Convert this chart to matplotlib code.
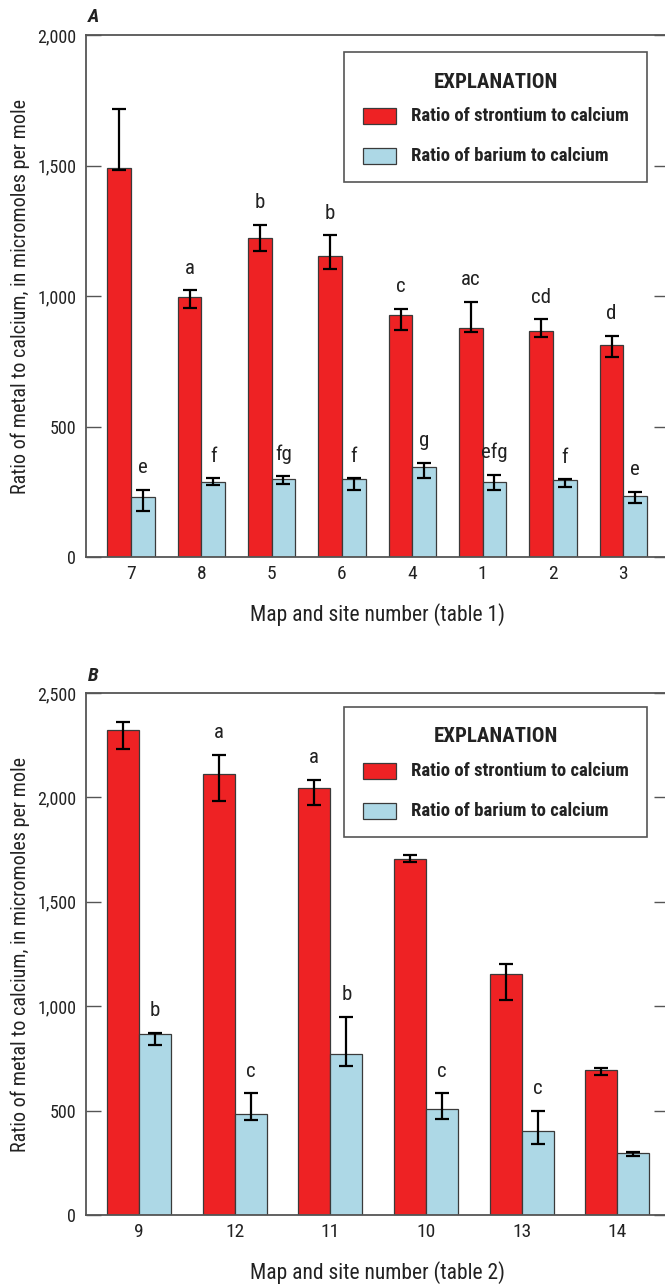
import matplotlib
matplotlib.use("Agg")
import matplotlib.pyplot as plt
from matplotlib import font_manager
from matplotlib.patches import Rectangle
import numpy as np

# ---------------- data ----------------
sites_a = ['7', '8', '5', '6', '4', '1', '2', '3']
sr_a = [1490, 997, 1222, 1152, 929, 878, 867, 814]
sr_a_lo = [1482, 955, 1172, 1102, 871, 861, 843, 767]
sr_a_hi = [1716, 1022, 1272, 1232, 951, 978, 910, 846]
ba_a = [231, 287, 298, 297, 343, 289, 294, 235]
ba_a_lo = [177, 276, 278, 255, 304, 255, 269, 205]
ba_a_hi = [257, 301, 310, 301, 360, 315, 297, 250]
sr_a_letters = ['', 'a', 'b', 'b', 'c', 'ac', 'cd', 'd']
ba_a_letters = ['e', 'f', 'fg', 'f', 'g', 'efg', 'f', 'e']

sites_b = ['9', '12', '11', '10', '13', '14']
sr_b = [2324, 2113, 2044, 1703, 1154, 694]
sr_b_lo = [2234, 1983, 1962, 1692, 1031, 671]
sr_b_hi = [2363, 2205, 2085, 1722, 1203, 706]
ba_b = [866, 483, 772, 507, 401, 297]
ba_b_lo = [812, 457, 714, 462, 339, 284]
ba_b_hi = [874, 582, 949, 583, 500, 303]
sr_b_letters = ['', 'a', 'a', '', '', '']
ba_b_letters = ['b', 'c', 'b', 'c', 'c', '']

yticks_a = [0, 500, 1000, 1500, 2000]
yticks_b = [0, 500, 1000, 1500, 2000, 2500]

# ---------------- fonts ----------------
available = {f.name for f in font_manager.fontManager.ttflist}
FONT = 'Liberation Sans'
for cand in ['Liberation Sans Narrow', 'Roboto Condensed', 'Noto Sans Condensed',
             'DejaVu Sans Condensed', 'Open Sans Condensed', 'Arial Narrow']:
    if cand in available:
        FONT = cand
        break
plt.rcParams['font.family'] = [FONT, 'DejaVu Sans']

RED = '#EE2224'
BLUE = '#ADD8E6'
EDGE = '#3a3a3a'
SPINE = '#555555'
TXT = '#222222'

W, H = 665, 1285
fig = plt.figure(figsize=(W / 100, H / 100), dpi=100)


def fx(x):
    return x / W


def fy(y):
    return 1 - y / H


def panel(rect, sites, sr, sr_lo, sr_hi, ba, ba_lo, ba_hi, sr_let, ba_let,
          yticks, xlim, xlabel, legend_box, letter, letter_y):
    ax = fig.add_axes(rect)
    x = np.arange(len(sites))
    w = 0.335
    sr = np.array(sr); ba = np.array(ba)
    sr_err = [sr - np.array(sr_lo), np.array(sr_hi) - sr]
    ba_err = [ba - np.array(ba_lo), np.array(ba_hi) - ba]
    ax.bar(x - w / 2, sr, w, color=RED, edgecolor=EDGE, linewidth=0.9, zorder=2)
    ax.bar(x + w / 2, ba, w, color=BLUE, edgecolor=EDGE, linewidth=0.9, zorder=2)
    ekw = dict(fmt='none', ecolor='black', elinewidth=1.6, capsize=5, capthick=1.6, zorder=3)
    ax.errorbar(x - w / 2, sr, yerr=sr_err, **ekw)
    ax.errorbar(x + w / 2, ba, yerr=ba_err, **ekw)
    for xs, his, lets in ((x - w / 2, sr_hi, sr_let), (x + w / 2, ba_hi, ba_let)):
        for xi, hi, t in zip(xs, his, lets):
            if t:
                ax.annotate(t, xy=(xi, hi), xytext=(0, 16), textcoords='offset points',
                            ha='center', va='center', fontsize=15, color=TXT)
    ax.set_xlim(*xlim)
    ax.set_ylim(yticks[0], yticks[-1])
    ax.set_yticks(yticks)
    ax.set_yticklabels([f'{v:,}' for v in yticks])
    ax.set_xticks(x)
    ax.set_xticklabels(sites)
    ax.tick_params(axis='x', length=0, pad=6, labelsize=14, colors=TXT)
    ax.tick_params(axis='y', direction='in', length=11, width=1, pad=7,
                   labelsize=13, colors=TXT, right=True, color=SPINE)
    for s in ax.spines.values():
        s.set_color(SPINE)
        s.set_linewidth(1.3)
    ax.set_xlabel(xlabel, fontsize=15.5, labelpad=14, color=TXT)
    ax.set_ylabel('Ratio of metal to calcium, in micromoles per mole', fontsize=14.5,
                  labelpad=5, color=TXT)
    # legend (explanation box)
    x0, y0, x1, y1 = legend_box
    fig.patches.append(Rectangle((fx(x0), fy(y1)), fx(x1 - x0), (y1 - y0) / H,
                                 transform=fig.transFigure, facecolor='white',
                                 edgecolor=SPINE, linewidth=1.2, zorder=5))
    fig.text(fx(496), fy(y0 + 30), 'EXPLANATION', ha='center', va='center',
             fontsize=15, fontweight='bold', color=TXT, zorder=6)
    for i, (c, lab) in enumerate([(RED, 'Ratio of strontium to calcium'),
                                  (BLUE, 'Ratio of barium to calcium')]):
        yc = y0 + 64 + i * 40
        fig.patches.append(Rectangle((fx(x0 + 19), fy(yc + 8)), fx(33), 16 / H,
                                     transform=fig.transFigure, facecolor=c,
                                     edgecolor=EDGE, linewidth=0.9, zorder=6))
        fig.text(fx(x0 + 67), fy(yc), lab, ha='left', va='center', fontsize=13.5,
                 fontweight='bold', color=TXT, zorder=6)
    fig.text(fx(88), fy(letter_y), letter, ha='left', va='center', fontsize=14,
             fontweight='bold', fontstyle='italic', color=TXT)
    return ax


panel([fx(86), fy(557), fx(669 - 86), (557 - 35) / H],
      sites_a, sr_a, sr_a_lo, sr_a_hi, ba_a, ba_a_lo, ba_a_hi,
      sr_a_letters, ba_a_letters, yticks_a, (-0.64, 7.65),
      'Map and site number (table 1)', (344, 52, 647, 182), 'A', 17)

panel([fx(86), fy(1215), fx(669 - 86), (1215 - 693) / H],
      sites_b, sr_b, sr_b_lo, sr_b_hi, ba_b, ba_b_lo, ba_b_hi,
      sr_b_letters, ba_b_letters, yticks_b, (-0.554, 5.54),
      'Map and site number (table 2)', (344, 707, 647, 837), 'B', 676)

fig.savefig('out.png', dpi=100)
